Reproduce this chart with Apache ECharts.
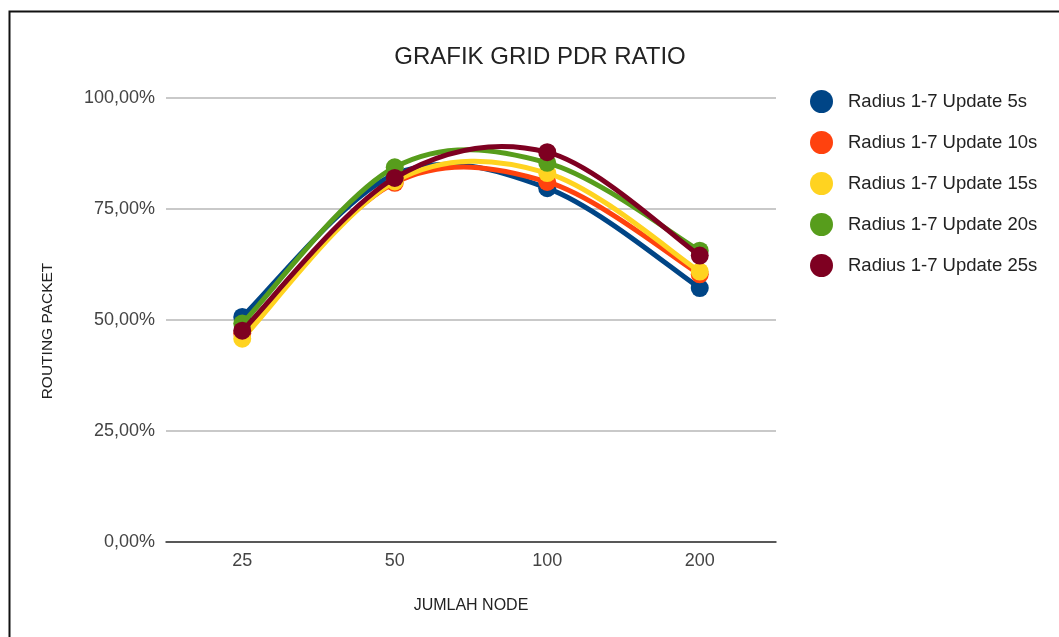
<!DOCTYPE html>
<html>
<head>
<meta charset="utf-8">
<script src="https://cdn.jsdelivr.net/npm/echarts@6/dist/echarts.min.js"></script>
<style>
html,body{margin:0;padding:0;background:#fff;}
#chart{width:1059px;height:637px;}
</style>
</head>
<body>
<div id="chart"></div>
<script>
var categories = ['25', '50', '100', '200'];
var seriesNames = ['Radius 1-7 Update 5s', 'Radius 1-7 Update 10s', 'Radius 1-7 Update 15s', 'Radius 1-7 Update 20s', 'Radius 1-7 Update 25s'];
var update5s  = [50.7, 82.8, 79.7, 57.2];
var update10s = [47.0, 80.9, 81.1, 60.3];
var update15s = [45.8, 81.2, 83.1, 60.9];
var update20s = [49.2, 84.4, 85.4, 65.6];
var update25s = [47.6, 82.0, 87.8, 64.5];
var yTicks = [0, 25, 50, 75, 100];
var colors = ['#004586', '#ff420e', '#ffd320', '#579d1c', '#7e0021'];
var allData = [update5s, update10s, update15s, update20s, update25s];

var chart = echarts.init(document.getElementById('chart'));
var font = 'Arial, "Liberation Sans", sans-serif';

function curveRenderer(values, color) {
  return function (params, api) {
    var i = params.dataIndex;
    if (i >= values.length - 1) return null;
    var n = values.length;
    function pt(k) {
      k = Math.max(0, Math.min(n - 1, k));
      return api.coord([k, values[k]]);
    }
    var p0 = pt(i - 1), p1 = pt(i), p2 = pt(i + 1), p3 = pt(i + 2);
    var t = 1 / 6;
    return {
      type: 'bezierCurve',
      shape: {
        x1: p1[0], y1: p1[1], x2: p2[0], y2: p2[1],
        cpx1: p1[0] + (p2[0] - p0[0]) * t, cpy1: p1[1] + (p2[1] - p0[1]) * t,
        cpx2: p2[0] - (p3[0] - p1[0]) * t, cpy2: p2[1] - (p3[1] - p1[1]) * t
      },
      style: { fill: 'none', stroke: color, lineWidth: 5, lineCap: 'round' }
    };
  };
}

var series = [];
seriesNames.forEach(function (n, i) {
  series.push({
    name: n,
    type: 'custom',
    coordinateSystem: 'cartesian2d',
    renderItem: curveRenderer(allData[i], colors[i]),
    data: allData[i].map(function (v, k) { return [k, v]; }),
    encode: { x: 0, y: 1 },
    itemStyle: { color: colors[i] },
    silent: true,
    z: 2 + 2 * i
  });
  series.push({
    name: n,
    type: 'line',
    data: allData[i],
    symbol: 'circle',
    symbolSize: 18,
    lineStyle: { width: 0, opacity: 0 },
    itemStyle: { color: colors[i] },
    emphasis: { disabled: true },
    z: 3 + 2 * i
  });
});

chart.setOption({
  animation: false,
  color: colors,
  title: {
    text: 'GRAFIK GRID PDR RATIO',
    left: 535, top: 40, textAlign: 'center',
    textStyle: { fontFamily: font, fontSize: 24, fontWeight: 'normal', color: '#222' }
  },
  legend: {
    orient: 'vertical',
    left: 805, top: 85,
    itemWidth: 23, itemHeight: 23, itemGap: 18,
    icon: 'circle',
    textStyle: { fontFamily: font, fontSize: 18.5, color: '#222', padding: [0, 0, 0, 10] },
    data: seriesNames
  },
  grid: { left: 166, right: 283, top: 98, bottom: 95 },
  xAxis: {
    type: 'category',
    data: categories,
    boundaryGap: true,
    name: 'JUMLAH NODE',
    nameLocation: 'middle',
    nameGap: 56,
    nameTextStyle: { fontFamily: font, fontSize: 16, color: '#222' },
    axisLine: { lineStyle: { color: '#333', width: 1.5 } },
    axisTick: { show: false },
    axisLabel: { fontFamily: font, fontSize: 18, color: '#444', margin: 10 }
  },
  yAxis: {
    type: 'value',
    min: 0, max: 100, interval: 25,
    name: 'ROUTING PACKET',
    nameLocation: 'middle',
    nameGap: 110,
    nameTextStyle: { fontFamily: font, fontSize: 15.5, color: '#222', padding: [0, 22, 0, 0] },
    axisLine: { show: false },
    axisTick: { show: false },
    axisLabel: {
      fontFamily: font, fontSize: 18, color: '#444', margin: 11,
      formatter: function (v) { return v.toFixed(2).replace('.', ',') + '%'; }
    },
    splitLine: { lineStyle: { color: '#b7b7b7', width: 1.5 } }
  },
  graphic: [{
    type: 'rect',
    shape: { x: 9.5, y: 11.5, width: 1100, height: 700 },
    style: { fill: 'none', stroke: '#111', lineWidth: 2 },
    silent: true, z: 100
  }],
  series: series
});
</script>
</body>
</html>
